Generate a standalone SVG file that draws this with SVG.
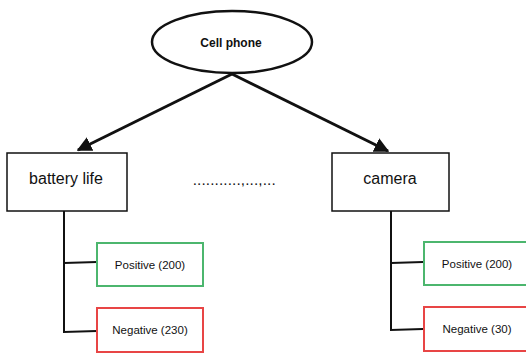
<svg xmlns="http://www.w3.org/2000/svg" width="526" height="354" viewBox="0 0 526 354">
<defs>
<style>
text{font-family:"Liberation Sans",Arial,sans-serif;fill:#111;text-anchor:middle}
.box{fill:#fff;stroke:#111;stroke-width:1.5}
.pos{fill:#fff;stroke:#4cb66e;stroke-width:2}
.neg{fill:#fff;stroke:#e84545;stroke-width:2}
.ln{stroke:#111;stroke-width:2;fill:none}
.arr{stroke:#111;stroke-width:3;fill:none}
.big{font-size:16px}
.small{font-size:11.5px}
</style>
<marker id="ah" viewBox="0 0 10 10" refX="9" refY="5" markerWidth="5" markerHeight="5" orient="auto" markerUnits="strokeWidth">
<path d="M0,0 L10,5 L0,10 z" fill="#111"/>
</marker>
</defs>
<rect width="526" height="354" fill="#fff"/>
<g id="connectors">
<line class="arr" x1="232" y1="74" x2="78" y2="150" marker-end="url(#ah)"/>
<line class="arr" x1="232" y1="74" x2="388" y2="151" marker-end="url(#ah)"/>
<polyline class="ln" points="64,211 64,332 97,331"/>
<line class="ln" x1="64" y1="263" x2="97" y2="262"/>
<polyline class="ln" points="391,211 391,330 423,329"/>
<line class="ln" x1="391" y1="263" x2="423" y2="262"/>
</g>
<g id="cellphone">
<ellipse cx="232" cy="42" rx="80" ry="31" fill="#fff" stroke="#111" stroke-width="2.5"/>
<text x="231" y="47" font-size="12" font-weight="bold">Cell phone</text>
</g>
<g id="battery">
<rect class="box" x="7" y="153" width="120" height="58"/>
<text class="big" x="66" y="184">battery life</text>
</g>
<g id="camera">
<rect class="box" x="332" y="153" width="117" height="58"/>
<text class="big" x="390" y="184">camera</text>
</g>
<g id="dots">
<text x="235" y="185" font-size="10" font-weight="bold" letter-spacing="1.6">...........,...,...</text>
</g>
<g id="battery-positive">
<rect class="pos" x="97" y="243" width="106" height="43"/>
<text class="small" x="150" y="269">Positive (200)</text>
</g>
<g id="battery-negative">
<rect class="neg" x="97" y="308" width="106" height="44"/>
<text class="small" x="150" y="334">Negative (230)</text>
</g>
<g id="camera-positive">
<rect class="pos" x="424" y="242" width="107" height="43"/>
<text class="small" x="477" y="268">Positive (200)</text>
</g>
<g id="camera-negative">
<rect class="neg" x="424" y="307" width="107" height="44"/>
<text class="small" x="477" y="333">Negative (30)</text>
</g>
</svg>
